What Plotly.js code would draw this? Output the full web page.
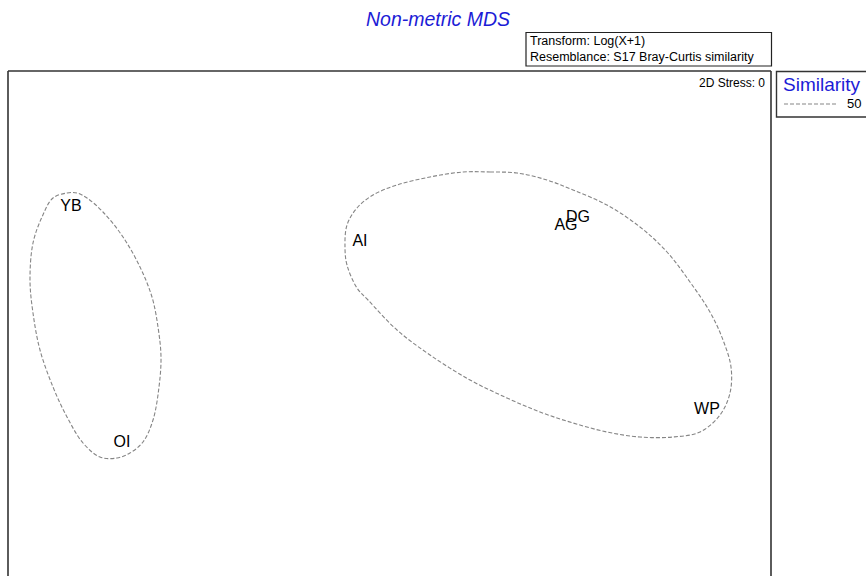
<!DOCTYPE html>
<html>
<head>
<meta charset="utf-8">
<script src="https://cdn.plot.ly/plotly-3.0.1.min.js"></script>
<style>html,body{margin:0;padding:0;background:#fff;}#chart{width:866px;height:576px;}</style>
</head>
<body>
<div id="chart"></div>
<script>
// Sample labels and MDS coordinates
const sites = ["YB", "OI", "AI", "AG", "DG", "WP"];
const mdsX = [-1.595, -1.34, -0.15, 0.88, 0.94, 1.585];
const mdsY = [0.465, -0.715, 0.29, 0.37, 0.41, -0.55];

// Similarity 50 contour (left group: YB, OI)
const contourAX = [-1.685, -1.615, -1.565, -1.515, -1.435, -1.335, -1.25, -1.19, -1.16, -1.145, -1.155, -1.185, -1.235, -1.30, -1.365, -1.45, -1.535, -1.615, -1.685, -1.75, -1.785, -1.80, -1.785, -1.74, -1.685];
const contourAY = [0.51, 0.535, 0.535, 0.51, 0.44, 0.315, 0.165, 0.015, -0.135, -0.285, -0.435, -0.60, -0.71, -0.765, -0.79, -0.785, -0.715, -0.585, -0.435, -0.25, -0.065, 0.10, 0.285, 0.415, 0.51];

// Similarity 50 contour (right group: AI, AG, DG, WP)
const contourBX = [0.365, 0.50, 0.635, 0.785, 0.915, 1.085, 1.25, 1.385, 1.50, 1.60, 1.665, 1.705, 1.70, 1.65, 1.55, 1.415, 1.25, 1.085, 0.915, 0.75, 0.585, 0.40, 0.20, 0.035, -0.11, -0.165, -0.215, -0.225, -0.215, -0.165, -0.085, 0.035, 0.20, 0.365];
const contourBY = [0.64, 0.64, 0.635, 0.60, 0.55, 0.475, 0.365, 0.24, 0.09, -0.06, -0.20, -0.335, -0.465, -0.575, -0.66, -0.685, -0.685, -0.66, -0.615, -0.56, -0.49, -0.40, -0.275, -0.15, 0.0, 0.06, 0.175, 0.26, 0.375, 0.46, 0.525, 0.575, 0.615, 0.64];

const similarityLevel = "50";

const FONT = "Liberation Sans, Arial, sans-serif";
const contourLine = {color: "#858585", width: 1.1, dash: "4px,2px", shape: "spline", smoothing: 1.0};

const traces = [
  {x: contourAX, y: contourAY, mode: "lines", line: contourLine, hoverinfo: "skip", showlegend: false},
  {x: contourBX, y: contourBY, mode: "lines", line: contourLine, hoverinfo: "skip", showlegend: false},
  {x: mdsX, y: mdsY, text: sites, mode: "text", textposition: "middle center",
   textfont: {family: FONT, size: 16, color: "#000"}, showlegend: false}
];

// helpers: pixel -> paper
const L = 8, R = 771, T = 71, B = 576;
const px = v => (v - L) / (R - L);
const py = v => (B - v) / (B - T);

const frame = {color: "#333", width: 1.6};
const layout = {
  width: 866, height: 576,
  margin: {l: L, r: 866 - R, t: T, b: 0, pad: 0},
  paper_bgcolor: "#fff", plot_bgcolor: "#fff",
  xaxis: {range: [-1.91, 1.905], showgrid: false, zeroline: false, showticklabels: false, ticks: "", showline: false, fixedrange: true},
  yaxis: {range: [-1.38, 1.145], showgrid: false, zeroline: false, showticklabels: false, ticks: "", showline: false, fixedrange: true},
  showlegend: false,
  shapes: [
    {type: "line", xref: "paper", yref: "paper", x0: 0, x1: 0, y0: 0, y1: 1, line: frame},
    {type: "line", xref: "paper", yref: "paper", x0: 0, x1: 1, y0: 1, y1: 1, line: frame},
    {type: "line", xref: "paper", yref: "paper", x0: 1, x1: 1, y0: 0, y1: 1, line: frame},
    {type: "rect", xref: "paper", yref: "paper", x0: px(526), x1: px(771.5), y0: py(66), y1: py(32.5), line: {color: "#222", width: 1.2}},
    {type: "rect", xref: "paper", yref: "paper", x0: px(776.5), x1: px(900), y0: py(117), y1: py(71.5), line: {color: "#333", width: 1.4}},
    {type: "line", xref: "paper", yref: "paper", x0: px(784), x1: px(838), y0: py(104), y1: py(104), line: {color: "#858585", width: 1.1, dash: "4px,2px"}}
  ],
  annotations: [
    {text: "<i>Non-metric MDS</i>", xref: "paper", yref: "paper", x: px(438), y: py(19), xanchor: "center", yanchor: "middle", showarrow: false, font: {family: FONT, size: 19.5, color: "#1c1cd6"}},
    {text: "Transform: Log(X+1)", xref: "paper", yref: "paper", x: px(528), y: py(41.5), xanchor: "left", yanchor: "middle", showarrow: false, font: {family: FONT, size: 12.5, color: "#000"}},
    {text: "Resemblance: S17 Bray-Curtis similarity", xref: "paper", yref: "paper", x: px(528), y: py(57), xanchor: "left", yanchor: "middle", showarrow: false, font: {family: FONT, size: 12.5, color: "#000"}},
    {text: "2D Stress: 0", xref: "paper", yref: "paper", x: px(767), y: py(83), xanchor: "right", yanchor: "middle", showarrow: false, font: {family: FONT, size: 12, color: "#000"}},
    {text: "Similarity", xref: "paper", yref: "paper", x: px(781), y: py(84), xanchor: "left", yanchor: "middle", showarrow: false, font: {family: FONT, size: 19, color: "#1c1cd6"}},
    {text: similarityLevel, xref: "paper", yref: "paper", x: px(845), y: py(104), xanchor: "left", yanchor: "middle", showarrow: false, font: {family: FONT, size: 13, color: "#000"}}
  ]
};

Plotly.newPlot("chart", traces, layout, {displayModeBar: false, staticPlot: true});
</script>
</body>
</html>
